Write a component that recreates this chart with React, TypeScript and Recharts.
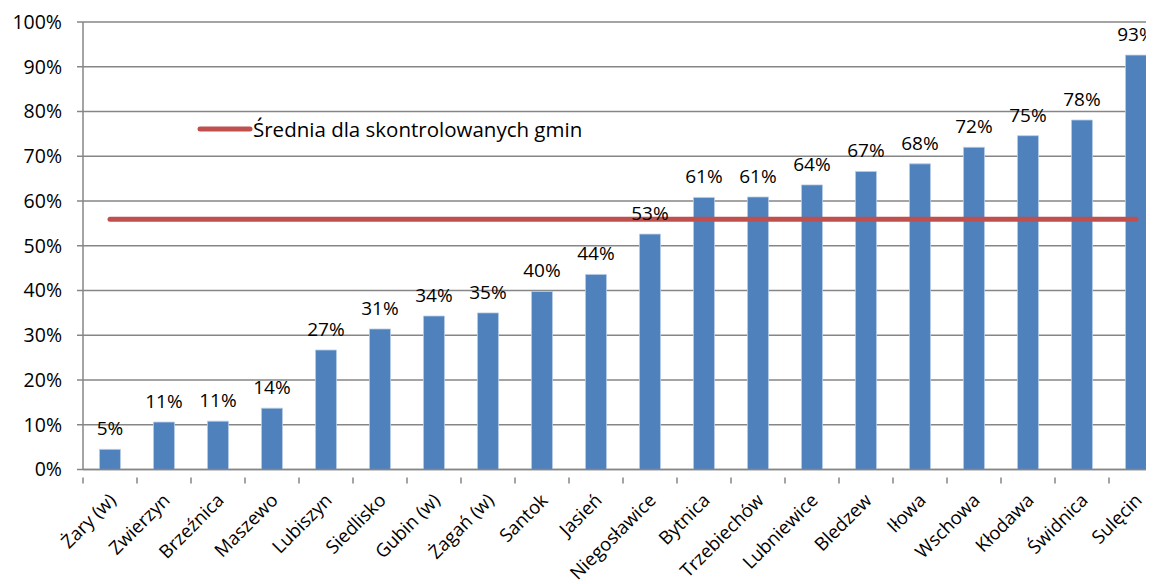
import {
  ComposedChart,
  Bar,
  Line,
  XAxis,
  YAxis,
  CartesianGrid,
  LabelList,
  Legend,
} from "recharts";

const gminy = [
  "Żary (w)",
  "Zwierzyn",
  "Brzeźnica",
  "Maszewo",
  "Lubiszyn",
  "Siedlisko",
  "Gubin (w)",
  "Żagań (w)",
  "Santok",
  "Jasień",
  "Niegosławice",
  "Bytnica",
  "Trzebiechów",
  "Lubniewice",
  "Bledzew",
  "Iłowa",
  "Wschowa",
  "Kłodawa",
  "Świdnica",
  "Sulęcin",
];

const udzial = [
  4.5, 10.6, 10.8, 13.7, 26.7, 31.4, 34.3, 35.0, 39.8, 43.6, 52.6, 60.8, 60.9,
  63.6, 66.6, 68.3, 72.0, 74.6, 78.1, 92.6,
];

const srednia = 55.9;
const yTicks = [0, 10, 20, 30, 40, 50, 60, 70, 80, 90, 100];

const data = gminy.map((name, i) => ({
  name,
  udzial: udzial[i],
  srednia,
}));

const FONT = "'Open Sans', Lato, sans-serif";

const XTick = (props: any) => {
  const { x, y, payload } = props;
  const half = payload.offset || 0;
  const last = payload.index === gminy.length - 1;
  return (
    <g>
      <line x1={x - half} x2={x - half} y1={y} y2={y + 6} stroke="#868686" strokeWidth={1.5} />
      {last && (
        <line x1={x + half} x2={x + half} y1={y} y2={y + 6} stroke="#868686" strokeWidth={1.5} />
      )}
      <text
        x={x + 7}
        y={y + 24}
        transform={`rotate(-45 ${x + 7} ${y + 24})`}
        textAnchor="end"
        fontSize={18.5}
        fontFamily={FONT}
        fill="#000"
      >
        {payload.value}
      </text>
    </g>
  );
};

const LegendBox = () => (
  <div style={{ display: "flex", alignItems: "center", fontFamily: FONT, fontSize: 20.5 }}>
    <svg width={56} height={10}>
      <line x1={3} x2={53} y1={5} y2={5} stroke="#C0504D" strokeWidth={5} strokeLinecap="round" />
    </svg>
    <span style={{ color: "#000" }}>Średnia dla skontrolowanych gmin</span>
  </div>
);

export default function App() {
  return (
    <div style={{ width: 1146, height: 576, overflow: "hidden" }}>
      <ComposedChart
        width={1170}
        height={576}
        data={data}
        margin={{ top: 14, right: 15, bottom: 0, left: 0 }}
        barCategoryGap="30.5%"
      >
        <CartesianGrid vertical={false} stroke="#868686" strokeWidth={1.5} />
        <XAxis
          dataKey="name"
          interval={0}
          height={114.5}
          tickLine={false}
          axisLine={{ stroke: "#868686", strokeWidth: 1.5 }}
          tick={<XTick />}
        />
        <YAxis
          width={75}
          domain={[0, 100]}
          ticks={yTicks}
          tickFormatter={(v: number) => `${v}%`}
          axisLine={{ stroke: "#868686", strokeWidth: 1.5 }}
          tickLine={{ stroke: "#868686", strokeWidth: 1.5 }}
          tickSize={6}
          tickMargin={15}
          tick={{ fontSize: 19.5, fontFamily: FONT, fill: "#000" }}
        />
        <Legend
          layout="horizontal"
          verticalAlign="middle"
          align="center"
          wrapperStyle={{ left: 189, top: 107, width: "auto" }}
          content={<LegendBox />}
        />
        <Bar
          dataKey="udzial"
          fill="#4F81BD"
          stroke="#B9CDE5"
          strokeWidth={0.8}
          isAnimationActive={false}
        >
          <LabelList
            dataKey="udzial"
            position="top"
            offset={14}
            formatter={(v: any) => `${Math.round(Number(v))}%`}
            style={{ fontSize: 19, fontFamily: FONT, fill: "#000" }}
          />
        </Bar>
        <Line
          dataKey="srednia"
          stroke="#C0504D"
          strokeWidth={5}
          strokeLinecap="round"
          dot={false}
          activeDot={false}
          isAnimationActive={false}
        />
      </ComposedChart>
    </div>
  );
}
